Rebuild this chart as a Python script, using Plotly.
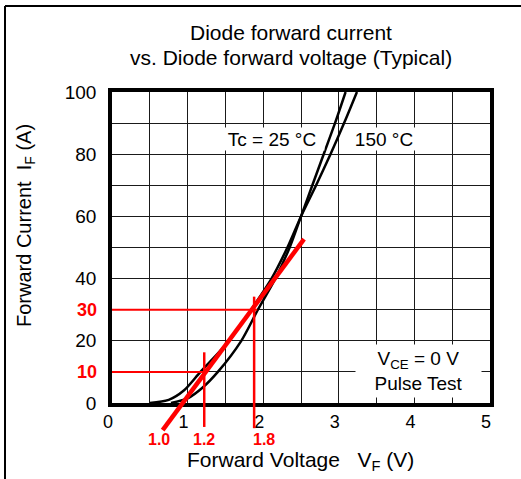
import plotly.graph_objects as go

# ---- data ----
vf_150 = [0.50, 0.75, 0.95, 1.17, 1.55, 1.84, 2.11, 2.32, 2.50, 2.70, 2.89, 3.07, 3.24]
if_150 = [0, 1, 4, 10, 20, 30, 40, 50, 60, 70, 80, 90, 100]
vf_25 = [0.78, 1.00, 1.20, 1.40, 1.71, 1.93, 2.16, 2.35, 2.50, 2.65, 2.80, 2.95, 3.09]
if_25 = [0, 1.5, 5, 10, 20, 30, 40, 50, 60, 70, 80, 90, 100]

# red construction (tangent line and read-off markers)
tangent_v = [0.67, 2.54]
tangent_i = [-8.75, 52.7]
mark_i = [10, 30]              # current levels marked
mark_v = [1.22, 1.88]          # voltage verticals
hline_end_v = [1.24, 1.92]     # horizontal red lines end
vline_i_top = [16.3, 34.2]
vline_i_bottom = [-7.7, -8.1]
red_v_labels = ["1.0", "1.2", "1.8"]
red_v_label_pos = [0.62, 1.22, 2.01]
red_i_labels = ["10", "30"]

x_ticks = [0, 1, 2, 3, 4, 5]
y_ticks = [0, 20, 40, 60, 80, 100]
x_range = [0, 5]
y_range = [0, 100]

FONT = "Liberation Sans, Arial, sans-serif"
RED = "#ff0000"

def yfrac(v):
    return (v - y_range[0]) / (y_range[1] - y_range[0])

fig = go.Figure()
fig.add_trace(go.Scatter(x=vf_150, y=if_150, mode="lines", line=dict(color="black", width=2.5, shape="spline", smoothing=0.8),
                         name="150 °C", hoverinfo="skip"))
fig.add_trace(go.Scatter(x=vf_25, y=if_25, mode="lines", line=dict(color="black", width=2.5, shape="spline", smoothing=0.8),
                         name="25 °C", hoverinfo="skip"))

shapes = []
# tangent line
shapes.append(dict(type="line", xref="x", yref="y domain", x0=tangent_v[0], y0=yfrac(tangent_i[0]),
                   x1=tangent_v[1], y1=yfrac(tangent_i[1]), line=dict(color=RED, width=4.5), layer="above"))
for i_val, v_end in zip(mark_i, hline_end_v):
    shapes.append(dict(type="line", xref="x", yref="y domain", x0=x_range[0], y0=yfrac(i_val), x1=v_end, y1=yfrac(i_val),
                       line=dict(color=RED, width=2), layer="above"))
for v, top, bot in zip(mark_v, vline_i_top, vline_i_bottom):
    shapes.append(dict(type="line", xref="x", yref="y domain", x0=v, y0=yfrac(bot), x1=v, y1=yfrac(top),
                       line=dict(color=RED, width=2.5), layer="above"))
# page frame (top and left lines)
W, H = 521, 479
ml, mr, mt, mb = 112, 31, 92, 76
pw, ph = W - ml - mr, H - mt - mb
def px(xp): return (xp - ml) / pw
def py(yp): return (H - mb - yp) / ph
shapes.append(dict(type="line", xref="paper", yref="paper", x0=px(5), y0=py(6), x1=px(521), y1=py(6), line=dict(color="black", width=2)))
shapes.append(dict(type="line", xref="paper", yref="paper", x0=px(5), y0=py(6), x1=px(5), y1=py(479), line=dict(color="black", width=2)))

annotations = []
annotations.append(dict(text="Diode forward current", xref="paper", yref="paper", x=px(291), y=py(33), showarrow=False,
                        font=dict(family=FONT, size=21, color="black"), xanchor="center", yanchor="middle"))
annotations.append(dict(text="vs. Diode forward voltage (Typical)", xref="paper", yref="paper", x=px(291), y=py(57), showarrow=False,
                        font=dict(family=FONT, size=21, color="black"), xanchor="center", yanchor="middle"))
annotations.append(dict(text="Forward Current\u00a0\u00a0I<sub>F</sub> (A)", xref="paper", yref="paper", x=px(25), y=py(226),
                        textangle=-90, showarrow=False, font=dict(family=FONT, size=20, color="black"),
                        xanchor="center", yanchor="middle"))
annotations.append(dict(text="Forward Voltage\u00a0\u00a0\u00a0V<sub>F</sub> (V)", xref="paper", yref="paper", x=px(300), y=py(461),
                        showarrow=False, font=dict(family=FONT, size=21, color="black"), xanchor="center", yanchor="middle",
                        height=22, borderpad=0))
# in-plot labels with white boxes
annotations.append(dict(text="Tc = 25 °C", xref="x", yref="y", x=2.12, y=84.8, showarrow=False, bgcolor="white",
                        width=104, height=22, borderpad=0, font=dict(family=FONT, size=19, color="black")))
annotations.append(dict(text="150 °C", xref="x", yref="y", x=3.6, y=84.8, showarrow=False, bgcolor="white",
                        width=76, height=22, borderpad=0, font=dict(family=FONT, size=19, color="black")))
annotations.append(dict(text="V<sub>CE</sub> = 0 V<br>Pulse Test", xref="x", yref="y", x=4.06, y=10.2, showarrow=False,
                        bgcolor="white", width=125, height=52, borderpad=0, align="center",
                        font=dict(family=FONT, size=19, color="black")))
for lab, xv in zip(red_v_labels, red_v_label_pos):
    annotations.append(dict(text="<b>" + lab + "</b>", xref="x", yref="paper", x=xv, y=py(439), showarrow=False,
                            font=dict(family=FONT, size=16, color=RED), xanchor="center", yanchor="middle",
                            height=16, borderpad=0))
for lab, iv in zip(red_i_labels, mark_i):
    annotations.append(dict(text="<b>" + lab + "</b>", xref="paper", yref="y", x=0, y=iv, xshift=-13, showarrow=False,
                            font=dict(family=FONT, size=18, color=RED), xanchor="right", yanchor="middle"))

fig.update_layout(
    width=W, height=H, margin=dict(l=ml, r=mr, t=mt, b=mb),
    paper_bgcolor="white", plot_bgcolor="white", showlegend=False,
    shapes=shapes, annotations=annotations,
    font=dict(family=FONT, color="black"),
)
fig.update_xaxes(range=x_range, tickvals=x_ticks, ticks="", showgrid=True, gridcolor="#1a1a1a", gridwidth=1.3,
                 minor=dict(dtick=0.5, showgrid=True, gridcolor="#1a1a1a", gridwidth=1.3),
                 showline=True, linecolor="black", linewidth=3.5, mirror=True, zeroline=False,
                 tickfont=dict(family=FONT, size=18, color="black"), ticklabelshift=-4, ticklabelstandoff=0)
fig.update_yaxes(range=y_range, tickvals=y_ticks, ticks="", showgrid=True, gridcolor="#1a1a1a", gridwidth=1.3,
                 minor=dict(dtick=10, showgrid=True, gridcolor="#1a1a1a", gridwidth=1.3),
                 showline=True, linecolor="black", linewidth=3.5, mirror=True, zeroline=False,
                 tickfont=dict(family=FONT, size=19, color="black"), ticklabelstandoff=8)

fig.write_html("out.html", config={"displayModeBar": False},
               post_script="document.body.style.margin='0';document.body.style.overflow='hidden';")
